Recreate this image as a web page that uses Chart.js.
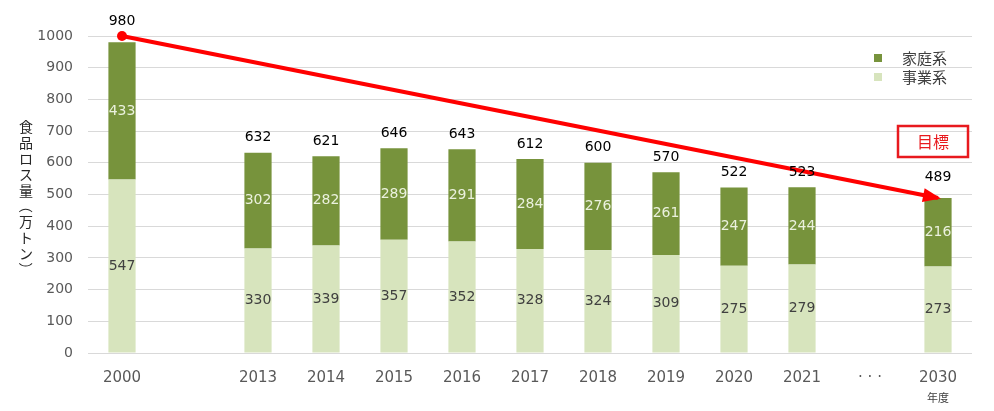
<!DOCTYPE html>
<html>
<head>
<meta charset="utf-8">
<script src="https://cdn.jsdelivr.net/npm/chart.js@4"></script>
<style>
html,body{margin:0;padding:0;background:#fff;}
#wrap{width:994px;height:411px;position:relative;}
</style>
</head>
<body>
<div id="wrap"><canvas id="c" width="994" height="411"></canvas></div>
<script>
const categories = ['2000','','2013','2014','2015','2016','2017','2018','2019','2020','2021','· · ·','2030'];
const household = [433,null,302,282,289,291,284,276,261,247,244,null,216];
const business  = [547,null,330,339,357,352,328,324,309,275,279,null,273];
const totals    = [980,null,632,621,646,643,612,600,570,522,523,null,489];
const target    = [1000,null,null,null,null,null,null,null,null,null,null,null,489];
const yTicks = [0,100,200,300,400,500,600,700,800,900,1000];
const seriesNames = ['家庭系','事業系'];
const yTitle = '食品ロス量（万トン）';
const xUnit = '年度';
const targetLabel = '目標';

const DARK = '#77933C', LIGHT = '#D7E4BD', RED = '#FF0000';
const NUMFONT = '"DejaVu Sans", Verdana, sans-serif';
const JPFONT = '"Noto Sans CJK JP", sans-serif';

const labelsPlugin = {
  id: 'labels',
  afterDatasetsDraw(chart) {
    const ctx = chart.ctx;
    const y = chart.scales.y;
    ctx.save();
    ctx.textAlign = 'center';
    ctx.textBaseline = 'middle';
    ctx.font = '14px ' + NUMFONT;
    chart.data.datasets.forEach((ds, di) => {
      if (ds.type === 'line') return;
      const meta = chart.getDatasetMeta(di);
      meta.data.forEach((bar, i) => {
        if (ds.data[i] == null) return;
        const p = bar.getProps(['x','y','base'], true);
        ctx.fillStyle = ds.label === seriesNames[0] ? '#EBF1DE' : '#404040';
        ctx.fillText(String(ds.data[i]), p.x, (p.y + p.base) / 2);
      });
    });
    ctx.fillStyle = '#000';
    const xs = chart.scales.x;
    totals.forEach((t, i) => {
      if (t == null) return;
      const top = Math.max(t, target[i] || 0);
      const off = (target[i] === t) ? 21 : 15;
      ctx.fillText(String(t), xs.getPixelForValue(i), y.getPixelForValue(top) - off);
    });
    ctx.restore();
  }
};

const decorPlugin = {
  id: 'decor',
  afterDraw(chart) {
    const ctx = chart.ctx;
    const xs = chart.scales.x, ys = chart.scales.y;
    ctx.save();
    const idx = target.length - 1;
    const x1 = xs.getPixelForValue(0), y1 = ys.getPixelForValue(target[0]);
    const x2 = xs.getPixelForValue(idx), y2 = ys.getPixelForValue(target[idx]);
    const ang = Math.atan2(y2 - y1, x2 - x1);
    const L = 15, W = 7;
    ctx.fillStyle = RED;
    ctx.beginPath();
    ctx.moveTo(x2 + 3*Math.cos(ang), y2 + 3*Math.sin(ang));
    ctx.lineTo(x2 - L*Math.cos(ang) + W*Math.sin(ang), y2 - L*Math.sin(ang) - W*Math.cos(ang));
    ctx.lineTo(x2 - L*Math.cos(ang) - W*Math.sin(ang), y2 - L*Math.sin(ang) + W*Math.cos(ang));
    ctx.closePath();
    ctx.fill();

    ctx.textAlign = 'left';
    ctx.textBaseline = 'middle';
    ctx.font = '15px ' + JPFONT;
    [[DARK, 58], [LIGHT, 77]].forEach((s, k) => {
      ctx.fillStyle = s[0];
      ctx.fillRect(874, s[1] - 4, 8, 8);
      ctx.fillStyle = '#404040';
      ctx.fillText(seriesNames[k], 902, s[1]);
    });

    ctx.strokeStyle = '#E8191E';
    ctx.lineWidth = 2.5;
    ctx.strokeRect(898, 126, 70, 31);
    ctx.fillStyle = '#E8191E';
    ctx.textAlign = 'center';
    ctx.font = '16px ' + JPFONT;
    ctx.fillText(targetLabel, 933, 142);

    ctx.fillStyle = '#404040';
    ctx.font = '11px ' + JPFONT;
    ctx.fillText(xUnit, xs.getPixelForValue(idx), 398);

    ctx.font = '14px ' + JPFONT;
    ctx.fillStyle = '#262626';
    const chars = Array.from(yTitle);
    const step = 15.8;
    let cy = 127;
    chars.forEach(ch => {
      if (ch === '（' || ch === '）') {
        ctx.save();
        ctx.translate(26, cy);
        ctx.rotate(Math.PI / 2);
        ctx.fillText(ch, 0, 0);
        ctx.restore();
      } else {
        ctx.fillText(ch, 26, cy);
      }
      cy += step;
    });
    ctx.restore();
  }
};

new Chart(document.getElementById('c'), {
  type: 'bar',
  data: {
    labels: categories,
    datasets: [
      {
        type: 'line', label: 'target', data: target, stack: 'target',
        borderColor: RED, backgroundColor: RED, borderWidth: 4,
        spanGaps: true, clip: false, order: 0,
        pointRadius: [5,0,0,0,0,0,0,0,0,0,0,0,0], pointHoverRadius: 0,
        pointBackgroundColor: RED, pointBorderWidth: 0
      },
      { label: seriesNames[1], data: business, backgroundColor: LIGHT, stack: 's', order: 1,
        categoryPercentage: 0.8, barPercentage: 0.5 },
      { label: seriesNames[0], data: household, backgroundColor: DARK, stack: 's', order: 2,
        categoryPercentage: 0.8, barPercentage: 0.5 }
    ]
  },
  options: {
    responsive: false,
    animation: false,
    events: [],
    layout: { padding: { top: 36, right: 22, left: 0, bottom: 0 } },
    plugins: { legend: { display: false }, tooltip: { enabled: false } },
    scales: {
      x: {
        stacked: true,
        grid: { display: false, drawTicks: false },
        border: { display: false },
        ticks: { color: '#595959', font: { family: NUMFONT, size: 15 }, padding: 16, autoSkip: false, maxRotation: 0 },
        afterFit(s) { s.height = 58; }
      },
      y: {
        stacked: true,
        min: 0, max: 1000,
        afterBuildTicks(s) { s.ticks = yTicks.map(v => ({ value: v })); },
        grid: { color: '#D9D9D9', lineWidth: 1, drawTicks: false },
        border: { display: false },
        ticks: { color: '#595959', font: { family: NUMFONT, size: 14 }, padding: 15, callback: v => String(v) },
        afterFit(s) { s.width = 88; }
      }
    }
  },
  plugins: [labelsPlugin, decorPlugin]
});
</script>
</body>
</html>
